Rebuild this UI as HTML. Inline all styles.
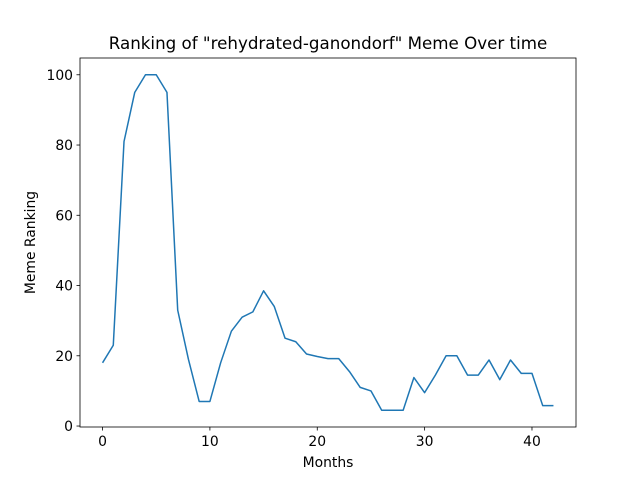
<!DOCTYPE html>
<html><head><meta charset="utf-8"><style>
body{margin:0;background:#fff;font-family:"Liberation Sans","DejaVu Sans",sans-serif}
svg text{font-family:"DejaVu Sans","Liberation Sans",sans-serif;fill:#000}
</style></head><body>
<svg id="chart" width="640" height="480" xmlns="http://www.w3.org/2000/svg">
<rect width="640" height="480" fill="#fff"/>
<text x="328" y="49" font-size="16.7" text-anchor="middle">Ranking of "rehydrated-ganondorf" Meme Over time</text>
<g id="plot"></g>
<text x="328" y="467" font-size="13.9" text-anchor="middle">Months</text>
<text transform="translate(35,242.5) rotate(-90)" font-size="13.9" text-anchor="middle">Meme Ranking</text>
</svg>
<script>
const months = [0,1,2,3,4,5,6,7,8,9,10,11,12,13,14,15,16,17,18,19,20,21,22,23,24,25,26,27,28,29,30,31,32,33,34,35,36,37,38,39,40,41,42];
const ranking = [18,23,81,95,100,100,95,33,19,7,7,18,27,31,32.5,38.5,34,25,24,20.5,19.8,19.2,19.2,15.5,11,10,4.5,4.5,4.5,13.8,9.5,14.5,20,20,14.5,14.5,18.8,13.2,18.8,15,15,5.8,5.8];
const xTicks = [0,10,20,30,40];
const yTicks = [0,20,40,60,80,100];
const L=80,R=576,T=58,B=427;
const xmin=-2.1,xmax=44.1,ymin=-0.275,ymax=104.775;
const sx=v=>L+(v-xmin)/(xmax-xmin)*(R-L);
const sy=v=>B-(v-ymin)/(ymax-ymin)*(B-T);
const NS='http://www.w3.org/2000/svg';
const g=document.getElementById('plot');
function mk(t,a){const e=document.createElementNS(NS,t);for(const k in a)e.setAttribute(k,a[k]);g.appendChild(e);return e;}
const line=mk('polyline',{points:months.map((m,i)=>sx(m)+','+sy(ranking[i])).join(' '),fill:'none',stroke:'#1f77b4','stroke-width':1.5,'stroke-linejoin':'round'});


xTicks.forEach(v=>{const x=sx(v);
 const t=mk('line',{x1:x,x2:x,y1:B,y2:B+3.5,stroke:'#000','stroke-width':0.8});
 
 
 const l=mk('text',{x:x,y:B+19,'font-size':13.9,'text-anchor':'middle'});l.textContent=v;
 
 });
yTicks.forEach(v=>{const y=sy(v);
 const t=mk('line',{x1:L-3.5,x2:L,y1:y,y2:y,stroke:'#000','stroke-width':0.8});
 
 
 const l=mk('text',{x:L-7,y:y+5,'font-size':13.9,'text-anchor':'end'});l.textContent=v;
 
 });
const f=mk('rect',{x:L,y:T,width:R-L,height:B-T,fill:'none',stroke:'#000','stroke-width':0.8});


</script>
</body></html>
